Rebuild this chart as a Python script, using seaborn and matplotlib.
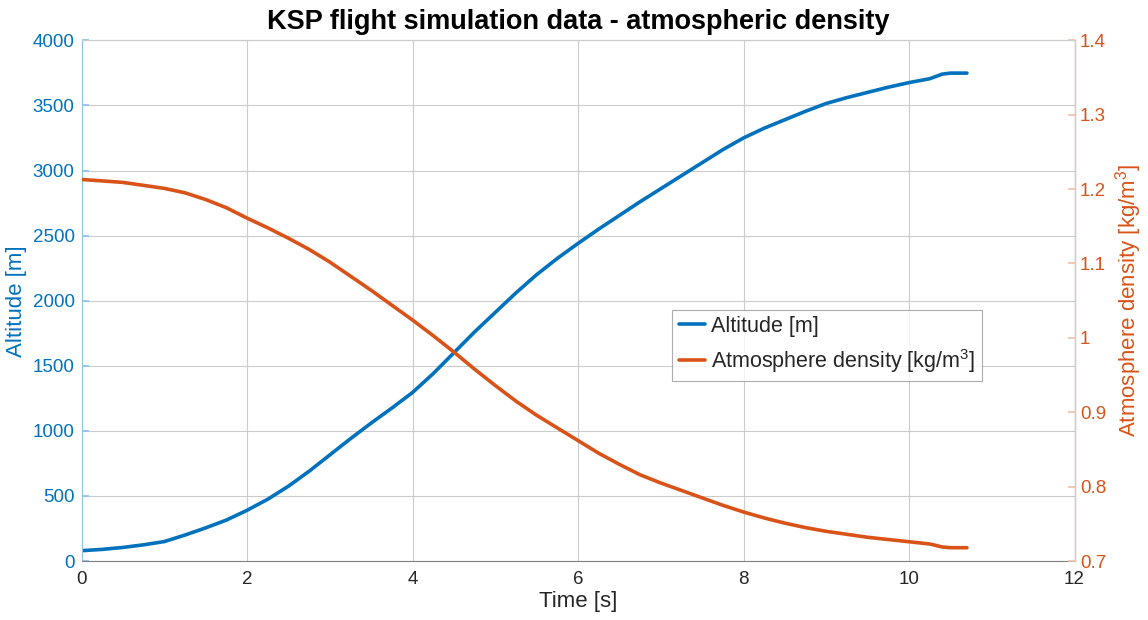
import pandas as pd
import seaborn as sns
import matplotlib.pyplot as plt

BLUE = '#0072BD'
ORANGE = '#D95319'

time_s = [0, 0.25, 0.5, 0.75, 1.0, 1.25, 1.5, 1.75, 2.0, 2.25, 2.5, 2.75, 3.0, 3.25, 3.5,
          3.75, 4.0, 4.25, 4.5, 4.75, 5.0, 5.25, 5.5, 5.75, 6.0, 6.25, 6.5, 6.75, 7.0, 7.25,
          7.5, 7.75, 8.0, 8.25, 8.5, 8.75, 9.0, 9.25, 9.5, 9.75, 10.0, 10.25, 10.4, 10.5, 10.7]
altitude_m = [80, 90, 105, 125, 150, 200, 255, 315, 390, 475, 575, 690, 815, 940, 1060,
              1175, 1295, 1440, 1600, 1760, 1910, 2060, 2200, 2325, 2440, 2550, 2655, 2760, 2860, 2960,
              3060, 3160, 3250, 3325, 3390, 3455, 3515, 3560, 3600, 3640, 3675, 3705, 3740, 3748, 3748]
density = [1.213, 1.211, 1.209, 1.205, 1.201, 1.195, 1.186, 1.175, 1.161, 1.148, 1.134, 1.119,
           1.102, 1.083, 1.064, 1.044, 1.024, 1.003, 0.981, 0.958, 0.936, 0.915, 0.896, 0.879,
           0.862, 0.845, 0.830, 0.816, 0.805, 0.795, 0.785, 0.775, 0.766, 0.758, 0.751, 0.745,
           0.740, 0.736, 0.732, 0.729, 0.726, 0.723, 0.719, 0.718, 0.718]

df = pd.DataFrame({'t': time_s, 'alt': altitude_m, 'rho': density})

sns.set_theme(style='white')
plt.rcParams['font.family'] = ['Liberation Sans', 'DejaVu Sans']
plt.rcParams['mathtext.fontset'] = 'custom'
plt.rcParams['mathtext.rm'] = 'Liberation Sans'
plt.rcParams['mathtext.it'] = 'Liberation Sans'

fig, ax = plt.subplots(figsize=(11.48, 6.2), dpi=100)
ax2 = ax.twinx()

sns.lineplot(data=df, x='t', y='alt', ax=ax, color=BLUE, linewidth=2.6,
             label='Altitude [m]', legend=False)
sns.lineplot(data=df, x='t', y='rho', ax=ax2, color=ORANGE, linewidth=2.6,
             label='Atmosphere density [kg/m$^3$]', legend=False)

ax.set_xlim(0, 12)
ax.set_ylim(0, 4000)
ax2.set_ylim(0.7, 1.4)
ax.set_xticks(range(0, 13, 2))
ax.set_yticks(range(0, 4001, 500))
ax2.set_yticks([0.7, 0.8, 0.9, 1.0, 1.1, 1.2, 1.3, 1.4])
ax2.set_yticklabels(['0.7', '0.8', '0.9', '1', '1.1', '1.2', '1.3', '1.4'])

ax.grid(True, color='#cccccc', linewidth=0.8)
ax.set_axisbelow(True)

ax.set_title('KSP flight simulation data - atmospheric density', fontsize=19.5,
             fontweight='bold', color='black', pad=8)
ax.set_xlabel('Time [s]', fontsize=16, color='#262626', labelpad=2)
ax.set_ylabel('Altitude [m]', fontsize=16, color=BLUE, labelpad=4)
ax2.set_ylabel('Atmosphere density [kg/m$^3$]', fontsize=16, color=ORANGE, labelpad=5)

ax.tick_params(axis='x', direction='in', colors='#262626', labelsize=13.5, length=5, pad=7)
ax.tick_params(axis='y', direction='in', colors='#8cc4ea', labelcolor=BLUE, labelsize=13.5, length=5, pad=5)
ax2.tick_params(axis='y', direction='in', colors='#f2c2a8', labelcolor=ORANGE, labelsize=13.5, length=5, pad=4)

for a in (ax, ax2):
    for s in a.spines.values():
        s.set_linewidth(0.8)
ax.spines['bottom'].set_color('#808080')
ax.spines['top'].set_color('#cccccc')
ax.spines['left'].set_color('#8cc4ea')
ax2.spines['right'].set_color('#f2c2a8')
ax2.spines['left'].set_visible(False)
ax2.spines['top'].set_color('#cccccc')
ax2.spines['bottom'].set_visible(False)

h1, lab1 = ax.get_legend_handles_labels()
h2, lab2 = ax2.get_legend_handles_labels()
leg = ax2.legend(h1 + h2, lab1 + lab2, loc='upper left', bbox_to_anchor=(0.595, 0.483),
                 fontsize=15.5, frameon=True, fancybox=False, handlelength=1.2,
                 handletextpad=0.3, borderpad=0.3, labelspacing=0.45, borderaxespad=0)
leg.get_frame().set_edgecolor('#999999')
leg.get_frame().set_linewidth(0.8)

fig.subplots_adjust(left=0.071, right=0.936, top=0.935, bottom=0.095)
plt.savefig('out.png', dpi=100)
plt.close()
